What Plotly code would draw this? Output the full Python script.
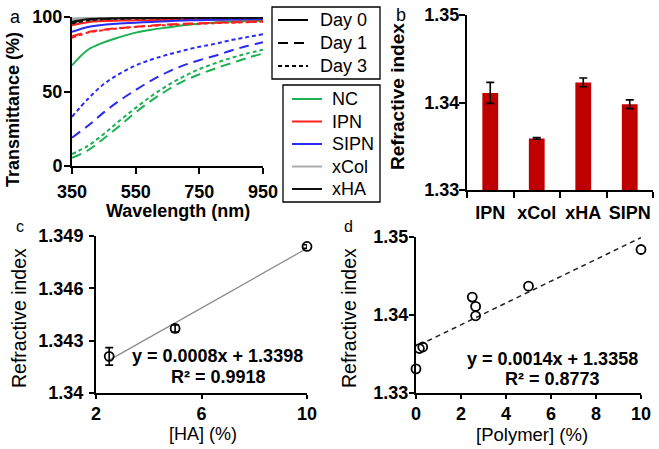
import numpy as np
import plotly.graph_objects as go

W, H = 659, 449
FONT = "Liberation Sans, Arial, sans-serif"

# ---------------- Panel a data ----------------
wavelength = [350, 400, 450, 500, 550, 600, 650, 700, 750, 800, 850, 900, 950]
nc_day0 = [67.5, 78, 83, 86.5, 89.5, 91.5, 93, 94.5, 95.5, 96.3, 96.8, 97.2, 97.5]
nc_day1 = [5.5, 10.5, 18.5, 27, 36, 44, 51, 57, 61.5, 65.5, 69, 72.5, 75.5]
nc_day3 = [8, 13.5, 21.5, 30.5, 39, 47, 54, 60, 65, 69, 72.5, 75.5, 78]
ipn_day0 = [94.5, 96.5, 97.3, 97.6, 97.8, 97.9, 98, 98.1, 98.2, 98.2, 98.3, 98.3, 98.3]
ipn_day1 = [87, 90, 91.5, 92.7, 93.5, 94.3, 95, 95.4, 95.8, 96.1, 96.4, 96.7, 97]
ipn_day3 = [86, 89.5, 91.2, 92.4, 93.3, 94, 94.6, 95.1, 95.5, 95.9, 96.2, 96.5, 96.8]
sipn_day0 = [90, 93.3, 94.8, 95.6, 96.2, 96.7, 97.2, 97.6, 97.9, 98.1, 98.3, 98.5, 98.6]
sipn_day1 = [19, 27, 36, 44, 51, 57.5, 63, 67.5, 71, 74, 77.5, 80.5, 83]
sipn_day3 = [33, 45, 55, 62, 67.5, 71.5, 74.7, 77.5, 80, 82, 84.5, 86.5, 88.5]
xcol_day0 = [99, 99.3, 99.5, 99.6, 99.6, 99.6, 99.7, 99.7, 99.7, 99.7, 99.7, 99.7, 99.7]
xcol_day1 = [98.6, 99.1, 99.3, 99.4, 99.5, 99.5, 99.5, 99.6, 99.6, 99.6, 99.6, 99.6, 99.6]
xcol_day3 = [98.2, 98.9, 99.2, 99.3, 99.4, 99.4, 99.5, 99.5, 99.5, 99.5, 99.5, 99.5, 99.5]
xha_day0 = [96.8, 98.5, 99, 99.2, 99.3, 99.4, 99.4, 99.5, 99.5, 99.5, 99.5, 99.5, 99.5]
xha_day1 = [96.2, 98.1, 98.7, 99, 99.1, 99.2, 99.3, 99.3, 99.4, 99.4, 99.4, 99.4, 99.4]
xha_day3 = [95.7, 97.7, 98.5, 98.8, 99, 99.1, 99.2, 99.2, 99.3, 99.3, 99.3, 99.3, 99.3]

groups = ["NC", "IPN", "SIPN", "xCol", "xHA"]
group_colors = ["#1DB052", "#FF1F1F", "#2A2AF5", "#AAAAAA", "#111111"]
day_labels = ["Day 0", "Day 1", "Day 3"]
day_dashes = ["solid", "10px,6px", "4px,3px"]
series_a = {
    "NC": [nc_day0, nc_day1, nc_day3],
    "IPN": [ipn_day0, ipn_day1, ipn_day3],
    "SIPN": [sipn_day0, sipn_day1, sipn_day3],
    "xCol": [xcol_day0, xcol_day1, xcol_day3],
    "xHA": [xha_day0, xha_day1, xha_day3],
}

# ---------------- Panel b data ----------------
b_categories = ["IPN", "xCol", "xHA", "SIPN"]
b_values = [1.3411, 1.3359, 1.3423, 1.3398]
b_errors = [0.0012, 0.0001, 0.0005, 0.0005]

# ---------------- Panel c data ----------------
c_ha = [2.5, 5, 10]
c_ri = [1.3421, 1.3437, 1.3484]
c_err = [0.0005, 0.0002, 0.0001]

# ---------------- Panel d data ----------------
d_polymer = [0, 0.15, 0.3, 2.5, 2.65, 2.65, 5, 10]
d_ri = [1.3331, 1.3357, 1.3359, 1.3423, 1.3411, 1.3399, 1.3437, 1.3484]

fig = go.Figure()

# Panel a curves
for g, col in zip(groups, group_colors):
    for d, dash in zip(range(3), day_dashes):
        fig.add_trace(go.Scatter(
            x=wavelength, y=series_a[g][d], mode="lines", name=f"{g} {day_labels[d]}",
            line=dict(color=col, width=2, dash=dash, shape="spline"),
            showlegend=False, xaxis="x", yaxis="y", hoverinfo="skip"))

# Panel b bars
fig.add_trace(go.Bar(x=b_categories, y=b_values, marker_color="#C00000",
                     error_y=dict(type="data", array=b_errors, color="black",
                                  thickness=1.6, width=4),
                     width=0.34, showlegend=False, xaxis="x2", yaxis="y2"))

# Panel c
cfit = np.polyfit(c_ha, c_ri, 1)
cx_line = [min(c_ha), max(c_ha)]
fig.add_trace(go.Scatter(x=cx_line, y=list(np.polyval(cfit, cx_line)), mode="lines",
                         line=dict(color="#8C8C8C", width=1.3),
                         showlegend=False, xaxis="x3", yaxis="y3"))
fig.add_trace(go.Scatter(x=c_ha, y=c_ri, mode="markers",
                         marker=dict(symbol="circle-open", size=9, color="black",
                                     line=dict(width=1.8, color="black")),
                         error_y=dict(type="data", array=c_err, color="black",
                                      thickness=1.6, width=4),
                         cliponaxis=False, showlegend=False, xaxis="x3", yaxis="y3"))

# Panel d
dfit = np.polyfit(d_polymer, d_ri, 1)
dx_line = [d_polymer[1], max(d_polymer)]
fig.add_trace(go.Scatter(x=dx_line, y=list(np.polyval(dfit, dx_line)), mode="lines",
                         line=dict(color="#222222", width=1.5, dash="5px,4px"),
                         showlegend=False, xaxis="x4", yaxis="y4"))
fig.add_trace(go.Scatter(x=d_polymer, y=d_ri, mode="markers",
                         marker=dict(symbol="circle-open", size=9, color="black",
                                     line=dict(width=1.8, color="black")),
                         cliponaxis=False, showlegend=False, xaxis="x4", yaxis="y4"))


def px_x(p):
    return p / W


def px_y(p):
    return 1 - p / H


def axis(domain, rng=None, **kw):
    d = dict(domain=domain, showline=True, linecolor="black", linewidth=2,
             ticks="outside", ticklen=6, tickwidth=2, tickcolor="black",
             showgrid=False, zeroline=False, automargin=False, tickangle=0,
             tickfont=dict(family=FONT, size=18, color="black", weight="bold"))
    if rng is not None:
        d["range"] = rng
    d.update(kw)
    return d


fig.update_layout(
    template="none", showlegend=False,
    width=W, height=H, margin=dict(l=0, r=0, t=0, b=0, autoexpand=False),
    paper_bgcolor="white", plot_bgcolor="white",
    font=dict(family=FONT, color="black"),
    xaxis=axis([px_x(72), px_x(263)], [350, 950], tickvals=[350, 550, 750, 950],
               anchor="y", ticklabelstandoff=2),
    yaxis=axis([px_y(166), px_y(17)], [0, 100], tickvals=[0, 50, 100], anchor="x",
               ticklabelstandoff=-2),
    xaxis2=axis([px_x(467), px_x(653)], None, anchor="y2", tickson="boundaries",
                ticklabelstandoff=5),
    yaxis2=axis([px_y(190), px_y(15)], [1.33, 1.35], tickvals=[1.33, 1.34, 1.35],
                ticktext=["1.33", "1.34", "1.35"], anchor="x2", ticklabelstandoff=-4),
    xaxis3=axis([px_x(96), px_x(307)], [2, 10], tickvals=[2, 6, 10], anchor="y3",
                ticklen=4, ticklabelstandoff=-1),
    yaxis3=axis([px_y(393), px_y(236)], [1.34, 1.349],
                tickvals=[1.34, 1.343, 1.346, 1.349], ticklen=5,
                ticktext=["1.34", "1.343", "1.346", "1.349"], anchor="x3",
                ticklabelstandoff=2),
    xaxis4=axis([px_x(416), px_x(641)], [0, 10], tickvals=[0, 2, 4, 6, 8, 10],
                anchor="y4", ticklen=4, ticklabelstandoff=-1),
    yaxis4=axis([px_y(393), px_y(237)], [1.33, 1.35], tickvals=[1.33, 1.34, 1.35],
                ticktext=["1.33", "1.34", "1.35"], anchor="x4", ticklen=5,
                ticklabelstandoff=-3),
    bargap=0.66,
)


def ann(text, x, y, size=18, bold=False, angle=0, xanchor="center"):
    t = f"<b>{text}</b>" if bold else text
    fig.add_annotation(text=t, x=px_x(x), y=px_y(y), xref="paper", yref="paper",
                       xanchor=xanchor, yanchor="middle", showarrow=False,
                       textangle=angle, font=dict(family=FONT, size=size, color="black"))


# ---------------- legends (drawn as boxes, sample lines and text) ----------------
def legend_box(x0, y0, x1, y1):
    fig.add_shape(type="rect", xref="paper", yref="paper",
                  x0=px_x(x0), x1=px_x(x1), y0=px_y(y1), y1=px_y(y0),
                  line=dict(color="black", width=1.3), fillcolor="white", layer="above")


def legend_item(xl, y, label, color, dash, text_x):
    fig.add_shape(type="line", xref="paper", yref="paper",
                  x0=px_x(xl), x1=px_x(xl + 30), y0=px_y(y), y1=px_y(y),
                  line=dict(color=color, width=2, dash=dash), layer="above")
    ann(label, text_x, y, 18, False, 0, "left")


legend_box(272, 7, 380, 79)
for i, (lab, dash) in enumerate(zip(day_labels, day_dashes)):
    legend_item(278, 20 + 23 * i, lab, "black", dash, 318)

legend_box(283, 85, 380, 202)
for i, (g, col) in enumerate(zip(groups, group_colors)):
    legend_item(292, 99 + 22.5 * i, g, col, "solid", 330)

# panel labels
ann("a", 15, 17, 18)
ann("b", 401, 15, 18)
ann("c", 20, 226, 16)
ann("d", 348, 226, 16)

# axis titles
ann("Transmittance (%)", 13, 110, 18, True, -90)
ann("Wavelength (nm)", 178, 211, 18, True)
ann("Refractive index", 398, 97, 19, True, -90)
ann("Refractive index", 19, 318, 19.5, False, -90)
ann("[HA] (%)", 203, 434, 18)
ann("Refractive index", 349, 318, 19.5, False, -90)
ann("[Polymer] (%)", 532, 434, 18.5)

# equations
ann("y = 0.0008x + 1.3398", 217, 356, 18, True)
ann("R² = 0.9918", 218, 377, 18, True)
ann("y = 0.0014x + 1.3358", 552, 359, 18, True)
ann("R² = 0.8773", 552, 379, 18, True)

fig.write_html("out.html", config={"displayModeBar": False, "staticPlot": True},
               post_script="document.body.style.margin='0px';document.body.style.padding='0px';")
